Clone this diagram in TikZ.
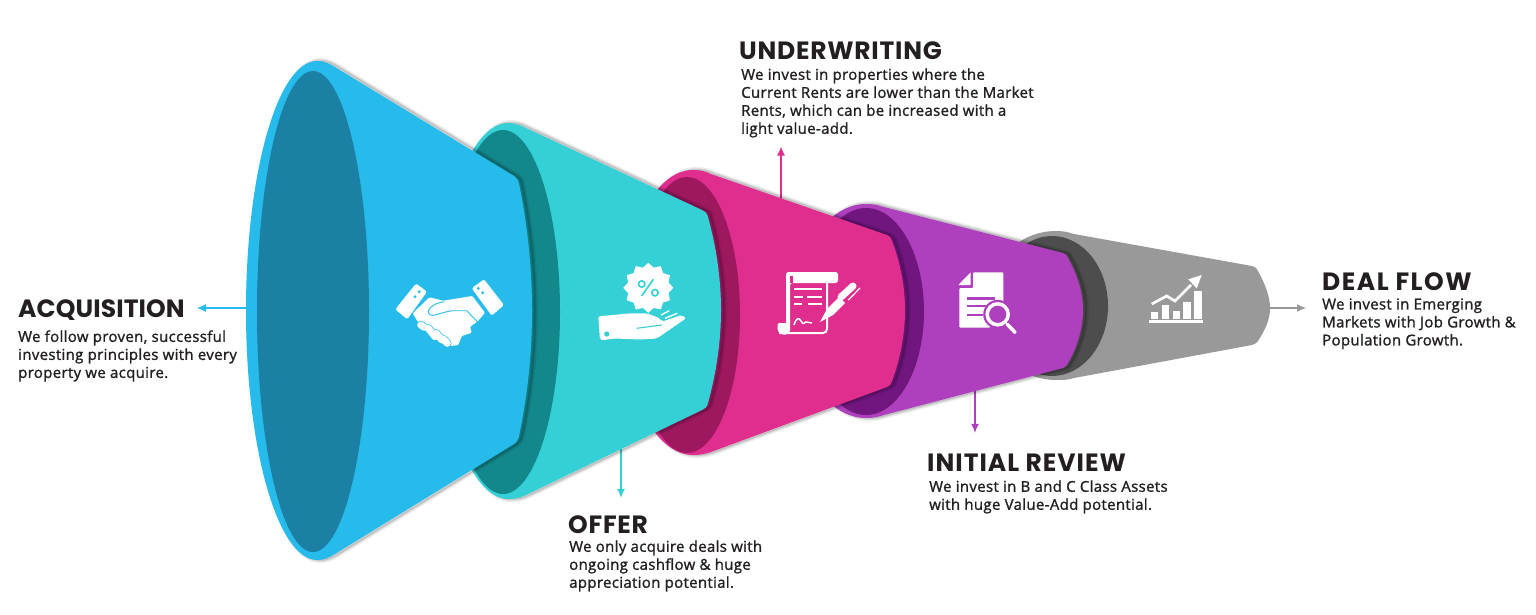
\documentclass[tikz,border=0pt]{standalone}
\usepackage{fontspec}
\setmainfont{Open Sans}
\newfontfamily\headfont[LetterSpace=3]{Poppins}
\newfontfamily\blurbfont[FakeBold=1.3,LetterSpace=2.2]{Open Sans}
\usetikzlibrary{shapes.geometric, arrows.meta, positioning}

\definecolor{inkc}{HTML}{231F20}
\definecolor{bluec}{HTML}{26BBEA}
\definecolor{bluedark}{HTML}{1C7FA4}
\definecolor{tealc}{HTML}{35CFD6}
\definecolor{tealdark}{HTML}{13888C}
\definecolor{pinkc}{HTML}{DF2E8E}
\definecolor{pinkdark}{HTML}{9E1860}
\definecolor{purplec}{HTML}{AE40BE}
\definecolor{purpledark}{HTML}{72167F}
\definecolor{grayc}{HTML}{999999}
\definecolor{graydark}{HTML}{4D4D4D}

% funnel bodies, widest one last
\def\graybody{(1056,231) .. controls (1063,231) and (1068,232) .. (1074,234) -- (1252,266) .. controls (1255,267) and (1257,268) .. (1258,271) .. controls (1265,284) and (1270,296) .. (1270,308) .. controls (1270,320) and (1265,330) .. (1258,341) .. controls (1257,343) and (1255,344) .. (1252,345) -- (1074,378) .. controls (1068,380) and (1063,380) .. (1056,380) .. controls (1017,380) and (986,347) .. (986,305.5) .. controls (986,264) and (1017,231) .. (1056,231) -- cycle}
\def\purplebody{(866,204) .. controls (873,204) and (878,205) .. (884,207) -- (1063,253) .. controls (1066,254) and (1067,255) .. (1068,258) .. controls (1077,274) and (1083,292) .. (1083,310) .. controls (1083,328) and (1077,348) .. (1068,363) .. controls (1067,365) and (1066,367) .. (1063,368) -- (884,415) .. controls (878,417) and (873,418) .. (866,418) .. controls (827,418) and (796,370) .. (796,311) .. controls (796,252) and (827,204) .. (866,204) -- cycle}
\def\pinkbody{(693,170) .. controls (700,170) and (705,171) .. (711,174) -- (887,235) .. controls (890,236) and (891,238) .. (892,241) .. controls (900,262) and (905,286) .. (905,310) .. controls (905,334) and (900,360) .. (892,381) .. controls (891,384) and (890,386) .. (887,387) -- (711,452) .. controls (705,454) and (700,455) .. (693,455) .. controls (654,455) and (623,391) .. (623,312.5) .. controls (623,234) and (654,170) .. (693,170) -- cycle}
\def\tealbody{(508,123) .. controls (515,123) and (520,125) .. (526,128) -- (702,210) .. controls (705,211) and (707,213) .. (708,217) .. controls (716,246) and (721,278) .. (721,310) .. controls (721,342) and (716,374) .. (708,403) .. controls (707,407) and (705,409) .. (702,410) -- (526,495) .. controls (520,498) and (515,499) .. (508,499) .. controls (471,499) and (440,415) .. (440,311) .. controls (440,207) and (471,123) .. (508,123) -- cycle}
\def\bluebody{(317,61) .. controls (325,61) and (330,64) .. (335,67) -- (514,176) .. controls (517,178) and (518,180) .. (519,184) .. controls (527,222) and (532,266) .. (532,311) .. controls (532,356) and (527,398) .. (519,436) .. controls (518,440) and (517,442) .. (514,444) -- (335,554) .. controls (330,557) and (325,560) .. (317,560) .. controls (278,560) and (246,449) .. (246,310.5) .. controls (246,172) and (278,61) .. (317,61) -- cycle}

\begin{document}
\begin{tikzpicture}[
    x=1pt, y=-1pt,
    headline/.style={inner sep=0pt, anchor=base west, text=inkc, text height=17pt, text depth=5pt, font=\headfont\bfseries\fontsize{25}{28}\selectfont},
    blurb/.style={inner sep=0pt, anchor=north west, align=left, text=inkc, font=\blurbfont\fontsize{15}{18}\selectfont},
    shade1/.style={draw=black, draw opacity=0.07, line width=6pt, xshift=3pt},
    shade2/.style={draw=black, draw opacity=0.09, line width=3.5pt, xshift=3pt},
    shade3/.style={draw=black, draw opacity=0.11, line width=1.5pt, xshift=3pt},
    arrow/.style={-{Latex[length=9pt,width=8pt]}, line width=1.1pt},
    iconline/.style={white, line width=2pt},
  ]
  \useasboundingbox (0,0) rectangle (1536,614);

  % labels
  \node[headline] (acq) at (18,317) {\addfontfeature{LetterSpace=0.4}ACQUISITION};
  \node[blurb, below=8pt of acq.south west, anchor=north west] (acqtext) {We follow proven, successful\\investing principles with every\\property we acquire.};
  \node[headline] (off) at (568,533) {OFFER};
  \node[blurb, below=2pt of off.south west, anchor=north west, xshift=1pt] (offtext) {We only acquire deals with\\ongoing cashflow \& huge\\appreciation potential.};
  \node[headline] (und) at (739,59) {UNDERWRITING};
  \node[blurb, below=4pt of und.south west, anchor=north west, xshift=2pt] (undtext) {We invest in properties where the\\Current Rents are lower than the Market\\Rents, which can be increased with a\\light value-add.};
  \node[headline] (rev) at (927,471) {\addfontfeature{LetterSpace=4}INITIAL REVIEW};
  \node[blurb, below=4pt of rev.south west, anchor=north west, xshift=2pt] (revtext) {We invest in B and C Class Assets\\with huge Value-Add potential.};
  \node[headline] (flow) at (1322,290) {\addfontfeature{LetterSpace=6}DEAL FLOW};
  \node[blurb, below=3pt of flow.south west, anchor=north west] (flowtext) {We invest in Emerging\\Markets with Job Growth \&\\Population Growth.};

  % connectors
  \coordinate (acqport) at (250,308);
  \coordinate (offport) at (621,440);
  \coordinate (undport) at (781,205);
  \coordinate (revport) at (975,385);
  \coordinate (flowport) at (1265,308);
  \draw[arrow, bluec, shorten >=12pt] (acqport) -- (acqport -| acq.east);
  \draw[arrow, tealc, shorten >=18pt] (offport) -- (offport |- off.north);
  \draw[arrow, pinkc, shorten >=9pt] (undport) -- (undport |- undtext.south);
  \draw[arrow, purplec, shorten >=21pt] (revport) -- (revport |- rev.north);
  \draw[arrow, grayc, shorten >=16pt] (flowport) -- (flowport -| flow.west);

  % funnel, narrow end first
  \fill[grayc] \graybody;
  \fill[graydark] (1052,306) ellipse (56 and 70);
  \foreach \s in {shade1,shade2,shade3} \path[\s] \purplebody;
  \fill[purplec] \purplebody;
  \fill[purpledark] (866,311.5) ellipse (58 and 103.5);
  \foreach \s in {shade1,shade2,shade3} \path[\s] \pinkbody;
  \fill[pinkc] \pinkbody;
  \fill[pinkdark] (687,315) ellipse (53 and 138);
  \foreach \s in {shade1,shade2,shade3} \path[\s] \tealbody;
  \fill[tealc] \tealbody;
  \fill[tealdark] (503,312) ellipse (57 and 182);
  \foreach \s in {shade1,shade2,shade3} \path[\s] \bluebody;
  \fill[bluec] \bluebody;
  \fill[bluedark] (313,311.5) ellipse (56 and 240.5);

  % handshake
  \fill[white, rounded corners=1.5pt] (416,283.5) -- (427,291.7) -- (407.3,319.3) -- (395.3,309.3) -- cycle;
  \fill[white, rounded corners=1.5pt] (484,279.3) -- (504,305) -- (491.7,315.7) -- (471.7,288.3) -- cycle;
  \fill[bluec] (419.3,291.7) circle (1.6) (415,296.7) circle (1.6) (478.3,288.3) circle (1.6) (482.7,292.7) circle (1.6);
  \fill[white, rounded corners=1pt] (429.3,297.3) -- (443.3,300.7) -- (472.3,296) -- (485,312.7) -- (477.3,321.7) -- (470,326.7) -- (471.7,332.7) -- (461.7,336) -- (458.3,345) -- (451,346) -- (440,336) -- (418,322) -- (412.7,313.3) -- cycle;
  \foreach \a/\b/\c/\d in {420.7/325/424.3/327.3, 428.3/328.3/435/336.7, 436/333.3/442/340, 443.3/339/447.3/343.3}
    \draw[bluec, line width=8.4pt, line cap=round] (\a,\b) -- (\c,\d);
  \foreach \a/\b/\c/\d in {420.7/325/424.3/327.3, 428.3/328.3/435/336.7, 436/333.3/442/340, 443.3/339/447.3/343.3}
    \draw[white, line width=7pt, line cap=round] (\a,\b) -- (\c,\d);
  \draw[bluec, line width=0.9pt] (444.3,301.7) .. controls (436,303) and (430,306) .. (428.3,311) .. controls (428,315) and (432,316) .. (435,315) .. controls (442,313) and (448,311) .. (453.3,310.7) -- (466.7,310.7) -- (477.3,321.7);

  % hand and badge
  \node[star, star points=12, star point ratio=1.2, fill=white, minimum size=50pt, inner sep=0pt] (badge) at (648.3,287.8) {};
  \draw[tealc, line width=1.6pt] (641.7,284) circle (3.2) (655,292.7) circle (3.2) (653.3,279.3) -- (641.7,296);
  \fill[white, rounded corners=2pt] (598.3,316.3) -- (613,315) -- (628,313.5) -- (646.7,313.3) -- (660,318.3) -- (661.7,321.7) -- (681.7,315) -- (686,318.3) -- (656.7,338.5) -- (640,339.5) -- (615,338.5) -- (603.3,340) -- (600,340) -- cycle;
  \draw[tealc, line width=1.1pt] (636.7,328.3) -- (661.7,325);
  \fill[tealc] (606.7,334) circle (2.6);
  \draw[white, line width=1.4pt] (661,315) -- (669.3,310.7) (665,318.3) -- (677.3,313.3);

  % scroll and pen
  \fill[white, rounded corners=2.5pt] (786,272) -- (838,272) -- (838,283) -- (790,283) -- (790,333) -- (786,333) -- cycle;
  \fill[pinkc] (790,276) rectangle (793,283);
  \draw[iconline, rounded corners=4pt] (827,283) -- (827,333) -- (779,333);
  \fill[white, rounded corners=1.5pt] (777.5,323) -- (787,323) -- (787,334.5) -- (782,334.5) -- (777.5,331) -- cycle;
  \draw[iconline] (794,289) -- (821.7,289) (794,296.7) -- (803,296.7) (807,296.7) -- (821.7,296.7) (794,304.3) -- (802,304.3) (808,304.3) -- (821.7,304.3);
  \draw[white, line width=1.5pt] (794,325) .. controls (796,318) and (799,317) .. (801,321) .. controls (803,325) and (804,323) .. (806,322) -- (812,323);
  \fill[white] (820,322) -- (827,309) -- (839,297) -- (845,303) -- (833,315) -- cycle;
  \draw[white, line width=7pt, line cap=round] (841,297) -- (853,286);
  \draw[white, line width=1.2pt] (860,288) -- (848.3,300);

  % document and magnifier
  \fill[white, rounded corners=1pt] (973,272.3) -- (1003.3,272.3) -- (1003.3,310) -- (990,327.7) -- (959.3,327.7) -- (959.3,288) -- (973,288) -- cycle;
  \fill[white, rounded corners=0.5pt] (958.3,285) -- (970.7,272.3) -- (970.7,285) -- cycle;
  \draw[purplec, line width=2.4pt] (967.3,298.3) -- (995,298.3) (967.3,306) -- (987,306) (967.3,315) -- (982.7,315);
  \fill[purplec] (997.7,314.3) circle (14.5);
  \draw[white, line width=3.5pt] (997.7,314.3) circle (10.5);
  \draw[white, line width=3.5pt, line cap=round] (1007.3,324.3) -- (1015,332.3);

  % rising chart
  \fill[white] (1149.3,320) rectangle (1203.3,323.3);
  \foreach \a/\b/\c in {1151/1158.3/311.7, 1161.7/1169.3/305, 1172.7/1180/310.7, 1183.3/1191/301.7, 1194.3/1201.7/291}
    \fill[white] (\a,\c) rectangle (\b,318.7);
  \draw[white, line width=2.7pt] (1151.7,304) -- (1166.7,296) -- (1175,301) -- (1191,285);
  \fill[white] (1201.7,275) -- (1188.3,279.3) -- (1196.7,288.3) -- cycle;
\end{tikzpicture}
\end{document}
